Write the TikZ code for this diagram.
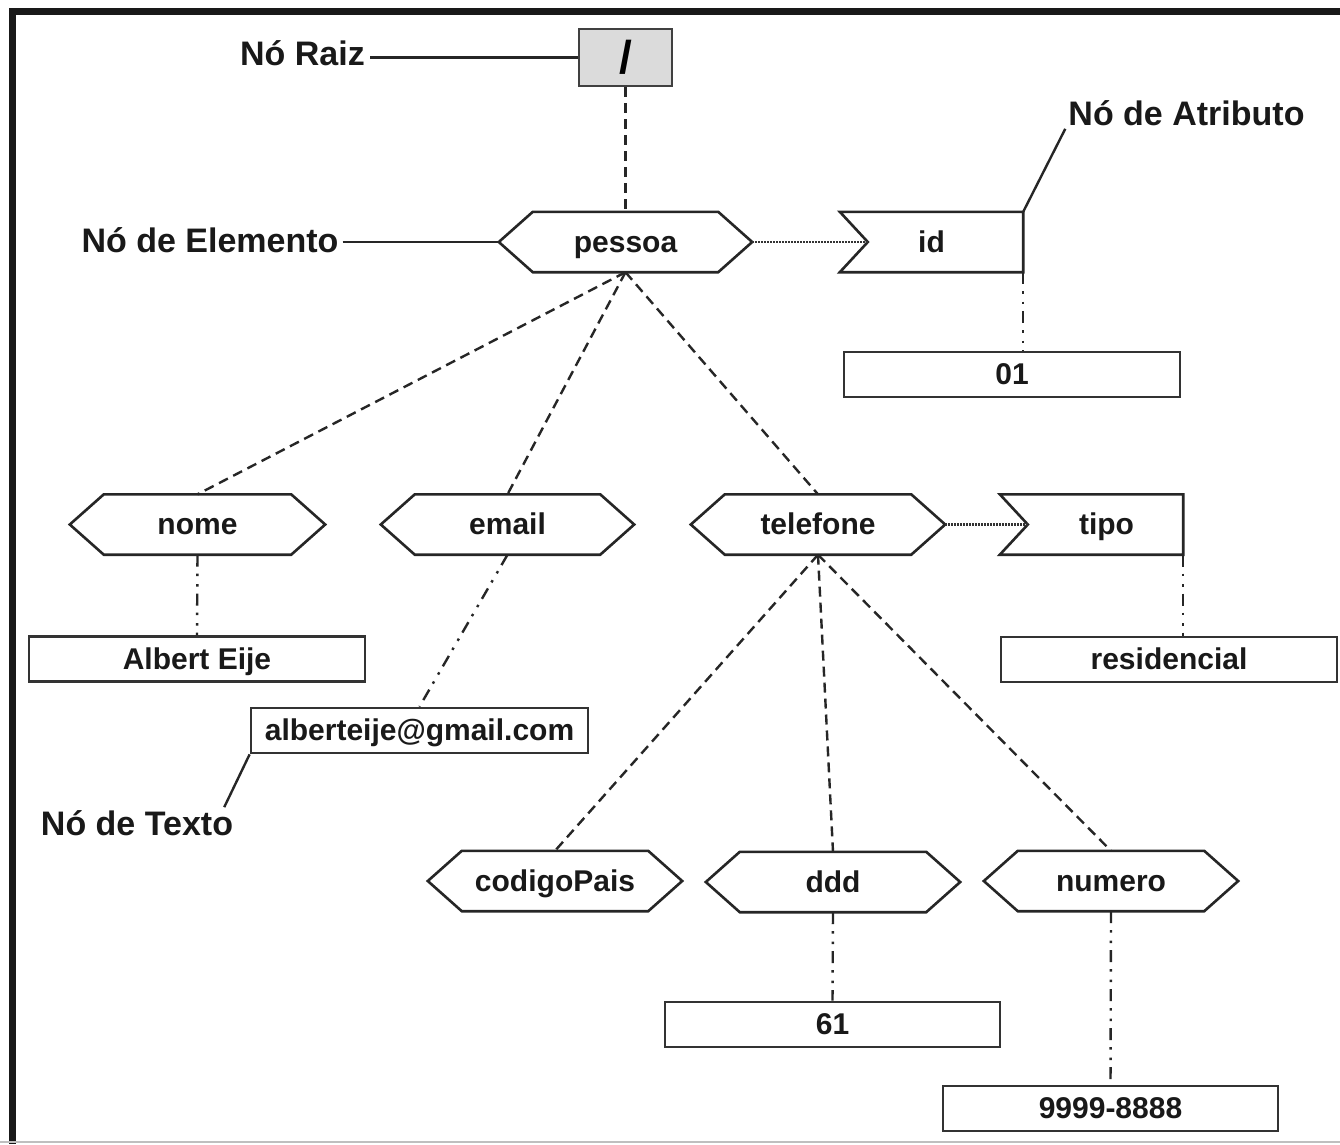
\documentclass[tikz,border=0pt]{standalone}
\usepackage{fontspec}
\setmainfont{Liberation Sans}
\begin{document}
\begin{tikzpicture}[x=1pt,y=-1pt,
  elemtxt/.style={inner sep=0pt, minimum height=60pt, text height=24pt, text depth=4pt,
    font=\fontsize{30}{36}\selectfont\bfseries, text=black!90},
  shapeline/.style={line width=2.6pt, black!85, line join=miter},
  valbox/.style={draw=black!80, line width=2.8pt, inner sep=0pt, minimum height=45pt,
    text height=24pt, text depth=4pt, font=\fontsize{30}{36}\selectfont\bfseries, text=black!90},
  rootbox/.style={draw=black!75, line width=2.8pt, fill=black!14, minimum width=93pt,
    minimum height=57pt, inner sep=0pt, font=\fontsize{46}{50}\selectfont\bfseries},
  note/.style={inner sep=3pt, font=\fontsize{34}{40}\selectfont\bfseries, text=black!90},
  leader/.style={line width=2.4pt, black!85},
  dashline/.style={line width=2.4pt, black!85, dash pattern=on 10pt off 6pt},
  dotline/.style={line width=2.4pt, black!80, dash pattern=on 1.6pt off 1.4pt},
  ddline/.style={line width=2.4pt, black!85, dash pattern=on 12pt off 7pt on 2.5pt off 8pt on 2.5pt off 7pt}
]
\useasboundingbox (0,0) rectangle (1340,1144);
\fill[white] (0,0) rectangle (1340,1144);

% frame
\draw[line width=7pt, black!90] (12.5,1144) -- (12.5,11.5) -- (1340,11.5);
\draw[line width=1.5pt, black!25] (0,1142) -- (1340,1142);

% hexagonal element node: name, position, width, text
\newcommand\hexnode[4]{%
  \node[elemtxt, minimum width=#3] (#1) at (#2) {#4};
  \draw[shapeline] (#1.west) -- ([xshift=34pt]#1.north west) -- ([xshift=-34pt]#1.north east)
    -- (#1.east) -- ([xshift=-34pt]#1.south east) -- ([xshift=34pt]#1.south west) -- cycle;}
% notched attribute node: name, position, width, text offset, text
\newcommand\attrnode[5]{%
  \node[elemtxt, minimum width=#3] (#1) at (#2) {\hspace*{#4}#5};
  \draw[shapeline] (#1.north west) -- (#1.north east) -- (#1.south east) -- (#1.south west)
    -- ([xshift=28pt]#1.west) -- cycle;}

% root
\node[rootbox] (root) at (625.5,57.5) {/};

% elements
\hexnode{pessoa}{625.5,242}{253pt}{pessoa}
\hexnode{nome}{197.5,524.5}{255pt}{nome}
\hexnode{email}{507.5,524.5}{253pt}{email}
\hexnode{telefone}{818,524.5}{254pt}{telefone}
\hexnode{codigo}{555,881}{254pt}{codigoPais}
\hexnode{ddd}{833,882}{254pt}{ddd}
\hexnode{numero}{1111,881}{254pt}{numero}

% attributes
\attrnode{id}{931.5,242}{183pt}{0pt}{id}
\attrnode{tipo}{1091.5,524.5}{183pt}{30pt}{tipo}

% text values
\node[valbox, minimum width=336pt] (v01) at (1012,374.5) {01};
\node[valbox, minimum width=336pt] (valbert) at (197,659) {Albert Eije};
\node[valbox, minimum width=337pt] (vemail) at (419.5,730.5) {alberteije@gmail.com};
\node[valbox, minimum width=336pt] (vres) at (1169,659.5) {residencial};
\node[valbox, minimum width=335pt] (v61) at (832.5,1024.5) {61};
\node[valbox, minimum width=335pt] (v9999) at (1110.5,1108.5) {9999-8888};

% annotations
\node[note] (lroot) at (302.5,53) {Nó Raiz};
\node[note] (lelem) at (210,240) {Nó de Elemento};
\node[note] (lattr) at (1186.5,113) {Nó de Atributo};
\node[note] (ltext) at (137,823) {Nó de Texto};

\draw[leader] ([xshift=2pt]root.west -| lroot.east) -- (root.west);
\draw[leader] ([xshift=1pt]pessoa.west -| lelem.east) -- (pessoa.west);
\draw[leader] (id.north east) -- (lattr.south west);
\draw[leader] (vemail.south west) -- ([xshift=-12pt]ltext.north east);

% tree structure
\draw[dashline] (root.south) -- (pessoa.north);
\draw[dashline] (pessoa.south) -- (nome.north);
\draw[dashline] (pessoa.south) -- (email.north);
\draw[dashline] (pessoa.south) -- (telefone.north);
\draw[dashline] (telefone.south) -- (codigo.north);
\draw[dashline] (telefone.south) -- (ddd.north);
\draw[dashline] (telefone.south) -- (numero.north);

% attribute links
\draw[dotline] (pessoa.east) -- ([xshift=28pt]id.west);
\draw[dotline] (telefone.east) -- ([xshift=28pt]tipo.west);

% text links
\draw[ddline] (id.south east) -- (v01.north -| id.south east);
\draw[ddline] (tipo.south east) -- (vres.north -| tipo.south east);
\draw[ddline] (nome.south) -- (valbert.north);
\draw[ddline] (email.south) -- (vemail.north);
\draw[ddline] (ddd.south) -- (v61.north);
\draw[ddline] (numero.south) -- (v9999.north);
\end{tikzpicture}
\end{document}
